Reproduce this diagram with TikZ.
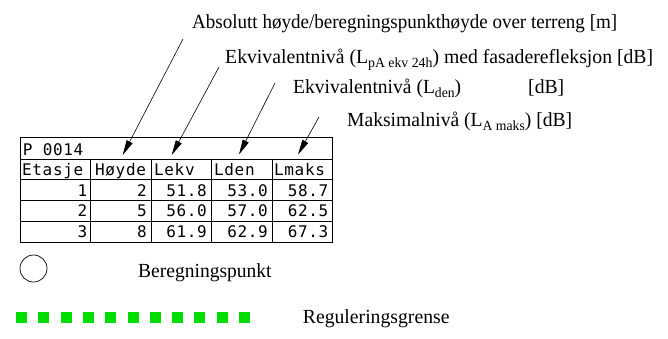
\documentclass[tikz,border=0pt]{standalone}
\usepackage{fontspec}
\setmainfont{Liberation Serif}
\newfontfamily\cadfont[LetterSpace=4]{DejaVu Sans Mono}
\usetikzlibrary{arrows.meta}
\definecolor{grense}{RGB}{0,221,0}
\newcommand\lsub[1]{\raisebox{-4.5pt}{\fontsize{14}{16}\selectfont #1}}
\newcommand\fitw[2]{\resizebox{#1pt}{\height}{#2}}
\tikzset{
  legend/.style={anchor=base west, inner sep=0pt, font=\fontsize{20}{22}\selectfont},
  cellw/.style={anchor=base west, inner sep=0pt, font=\cadfont\fontsize{16}{18}\selectfont},
  celle/.style={anchor=base east, inner sep=0pt, font=\cadfont\fontsize{16}{18}\selectfont},
  leader/.style={line width=0.6pt, -{Triangle[length=15pt,width=6.5pt]}},
  tabline/.style={line width=0.8pt},
}
\begin{document}
\begin{tikzpicture}[x=1pt,y=-1pt]
  \useasboundingbox (0,0) rectangle (668,338);
  \node[legend] (hoyde) at (192,28) {\fitw{425}{Absolutt høyde/beregningspunkthøyde over terreng [m]}};
  \node[legend] (lekv) at (225,63) {\fitw{428}{Ekvivalentnivå (L\lsub{pA ekv 24h}) med fasaderefleksjon [dB]}};
  \node[legend] (lden) at (293,93) {\fitw{168}{Ekvivalentnivå (L\lsub{den})}};
  \node[legend] (ldendb) at (528,93) {\fitw{36}{[dB]}};
  \node[legend] (lmaks) at (347,126) {\fitw{225}{Maksimalnivå (L\lsub{A maks}) [dB]}};
  \coordinate (hoyde start) at (183,39);
  \coordinate (lekv start) at (219,67);
  \coordinate (lden start) at (275,83);
  \coordinate (lmaks start) at (319,117);
  \coordinate (hoyde tip) at (122.7,155);
  \coordinate (lekv tip) at (171.7,155);
  \coordinate (lden tip) at (239,154.5);
  \coordinate (lmaks tip) at (298,154.5);
  \begin{scope}[leader]
    \draw (hoyde start) to (hoyde tip);
    \draw (lekv start) to (lekv tip);
    \draw (lden start) to (lden tip);
    \draw (lmaks start) to (lmaks tip);
  \end{scope}
  \begin{scope}[tabline]
    \draw (20.5,137.7) rectangle (332,242);
    \foreach \y in {159.3,179.7,200.3,221.3}
      \draw (20.5,\y) -- (332,\y);
    \foreach \x in {90,151,211,272}
      \draw (\x,159.3) -- (\x,242);
  \end{scope}
  \node[cellw] (punkt id) at (22.7,155) {P 0014};
  \node[cellw] (h1) at (22,175) {Etasje};
  \node[cellw] (h2) at (95,175) {Høyde};
  \node[cellw] (h3) at (154,175) {Lekv};
  \node[cellw] (h4) at (214,175) {Lden};
  \node[cellw] (h5) at (274,175) {Lmaks};
  \node[celle] (a1) at (87.5,196) {1};
  \node[celle] (a2) at (147,196) {2};
  \node[celle] (a3) at (207,196) {51.8};
  \node[celle] (a4) at (268,196) {53.0};
  \node[celle] (a5) at (328.5,196) {58.7};
  \node[celle] (b1) at (87.5,216.5) {2};
  \node[celle] (b2) at (147,216.5) {5};
  \node[celle] (b3) at (207,216.5) {56.0};
  \node[celle] (b4) at (268,216.5) {57.0};
  \node[celle] (b5) at (328.5,216.5) {62.5};
  \node[celle] (c1) at (87.5,237) {3};
  \node[celle] (c2) at (147,237) {8};
  \node[celle] (c3) at (207,237) {61.9};
  \node[celle] (c4) at (268,237) {62.9};
  \node[celle] (c5) at (328.5,237) {67.3};
  \node[draw, circle, minimum size=27pt, inner sep=0pt, line width=0.7pt] (punkt) at (33.5,268.5) {};
  \node[legend] (punkt text) at (138,277) {\fitw{133.4}{Beregningspunkt}};
  \foreach \i in {0,...,10}
    \fill[grense] (16+22.3*\i,312) rectangle +(11,11);
  \node[legend] (grense text) at (302.7,323) {\fitw{146.6}{Reguleringsgrense}};
\end{tikzpicture}
\end{document}
